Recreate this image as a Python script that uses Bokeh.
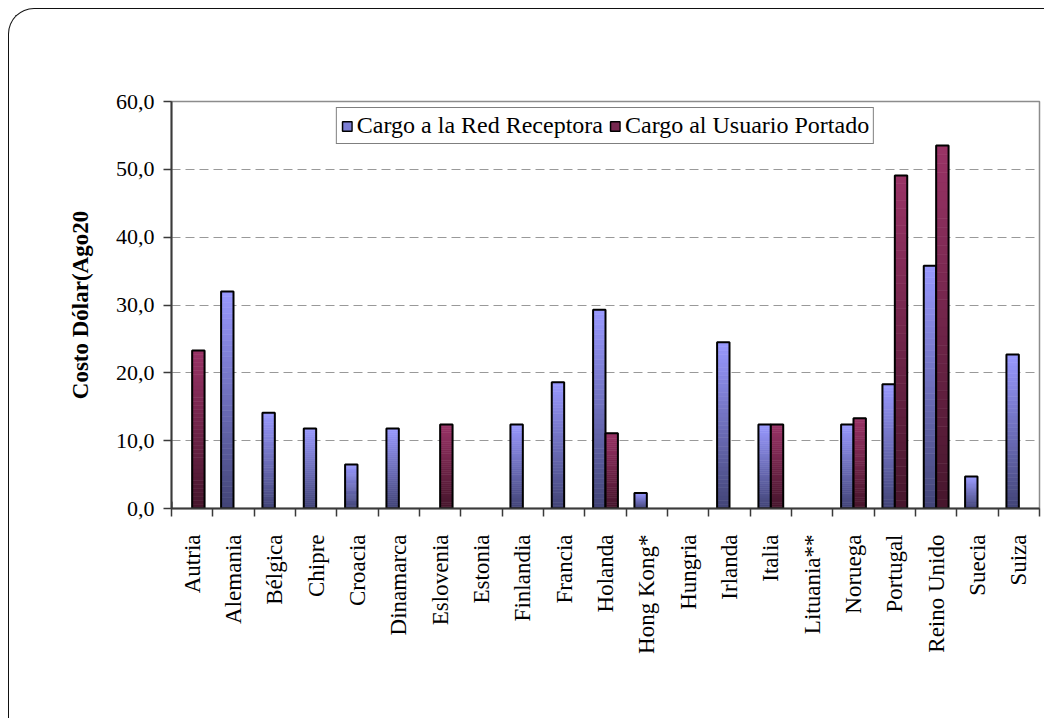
from math import pi

from bokeh.embed import file_html
from bokeh.resources import INLINE
from bokeh.plotting import figure
from bokeh.models import (Range1d, FixedTicker, LinearAxis, ColumnDataSource, Legend, LegendItem)

# ---------------- data ----------------
categories = ["Autria", "Alemania", "Bélgica", "Chipre", "Croacia", "Dinamarca", "Eslovenia",
              "Estonia", "Finlandia", "Francia", "Holanda", "Hong Kong*", "Hungria", "Irlanda",
              "Italia", "Lituania**", "Noruega", "Portugal", "Reino Unido", "Suecia", "Suiza"]
red_receptora = [0, 32.0, 14.1, 11.8, 6.5, 11.8, 0, 0, 12.4, 18.6, 29.3, 2.3, 0, 24.5,
                 12.4, 0, 12.4, 18.3, 35.8, 4.7, 22.7]
usuario_portado = [23.3, 0, 0, 0, 0, 0, 12.4, 0, 0, 0, 11.1, 0, 0, 0,
                   12.4, 0, 13.3, 49.1, 53.5, 0, 0]
series_names = ["Cargo a la Red Receptora", "Cargo al Usuario Portado"]
y_ticks = [0, 10, 20, 30, 40, 50, 60]
y_tick_labels = ["0,0", "10,0", "20,0", "30,0", "40,0", "50,0", "60,0"]
y_title = "Costo Dólar(Ago20"

SERIF = "Liberation Serif"
BLUE_LIGHT, BLUE_DARK = (153, 153, 255), (66, 68, 118)
RED_LIGHT, RED_DARK = (153, 51, 102), (70, 22, 44)

ncat = len(categories)
centers = [i + 0.5 for i in range(ncat)]
edges = list(range(ncat + 1))

p = figure(width=1036, height=710, x_range=Range1d(0, ncat), y_range=Range1d(0, 60),
           output_backend="svg", toolbar_location=None, x_axis_location=None,
           min_border_left=162, min_border_right=6, min_border_top=92, min_border_bottom=211)
p.margin = (8, 0, 0, 8)
p.styles = {"border-left": "1.5px solid #111", "border-top": "1.5px solid #111",
            "border-top-left-radius": "26px"}
p.background_fill_color = "white"
p.border_fill_color = None
p.outline_line_color = "#8c8c8c"
p.outline_line_width = 1.5

p.xgrid.grid_line_color = None
p.ygrid.ticker = FixedTicker(ticks=y_ticks[1:-1])
p.ygrid.grid_line_color = "#999999"
p.ygrid.grid_line_dash = "9 5"
p.ygrid.grid_line_width = 1

yax = p.yaxis[0]
yax.ticker = FixedTicker(ticks=y_ticks)
yax.major_label_overrides = dict(zip(y_ticks, y_tick_labels))
yax.major_label_text_font = SERIF
yax.major_label_text_font_size = "22px"
yax.major_label_text_color = "black"
yax.major_tick_out = 8
yax.major_tick_in = 0
yax.minor_tick_out = 0
yax.minor_tick_in = 0
yax.major_label_standoff = 9
yax.axis_line_color = "#3a3a3a"
yax.axis_line_width = 2
yax.major_tick_line_color = "#3a3a3a"
yax.major_tick_line_width = 1.5
yax.axis_label = y_title
yax.axis_label_text_font = SERIF
yax.axis_label_text_font_style = "bold"
yax.axis_label_text_font_size = "23px"
yax.axis_label_text_color = "black"
yax.axis_label_standoff = 20

# category axis: labels at centres, tick marks (minor ticks) at category boundaries
cat_axis = LinearAxis(ticker=FixedTicker(ticks=centers, minor_ticks=edges),
                      major_label_overrides=dict(zip(centers, categories)),
                      major_tick_out=0, major_tick_in=0, minor_tick_out=8, minor_tick_in=0,
                      minor_tick_line_color="#3a3a3a", minor_tick_line_width=1.5,
                      axis_line_color="#3a3a3a", axis_line_width=2,
                      major_label_orientation=pi / 2, major_label_standoff=18,
                      major_label_text_font=SERIF, major_label_text_font_size="23px",
                      major_label_text_color="black")
p.add_layout(cat_axis, "below")


def hexcol(c):
    return "#%02x%02x%02x" % c


def gradient_source(values, off, light, dark, n=40):
    xs, bot, top, col = [], [], [], []
    for x, v in zip(centers, values):
        if v <= 0:
            continue
        for k in range(n):
            t = (k + 0.5) / n
            xs.append(x + off)
            bot.append(v * k / n)
            top.append(v * (k + 1) / n)
            col.append(hexcol(tuple(round(d + (l - d) * t) for l, d in zip(light, dark))))
    return ColumnDataSource(dict(x=xs, bottom=bot, top=top, color=col))


def outline_source(values, off):
    xs = [x + off for x, v in zip(centers, values) if v > 0]
    val = [v for v in values if v > 0]
    return ColumnDataSource(dict(x=xs, val=val))


for values, off, light, dark in [(red_receptora, -0.15, BLUE_LIGHT, BLUE_DARK),
                                 (usuario_portado, 0.15, RED_LIGHT, RED_DARK)]:
    p.vbar(x="x", bottom="bottom", top="top", width=0.3, fill_color="color",
           line_color="color", line_width=0.6, source=gradient_source(values, off, light, dark))
    p.vbar(x="x", top="val", width=0.3, fill_alpha=0, line_color="black", line_width=2,
           source=outline_source(values, off))

# legend proxies (outside the visible x range, used only for the legend swatches)
r1 = p.vbar(x=[-5], top=[1], width=0.3, fill_color="#7c7ed4", line_color="black", line_width=1.5)
r2 = p.vbar(x=[-5], top=[1], width=0.3, fill_color="#772850", line_color="black", line_width=1.5)
legend = Legend(items=[LegendItem(label=series_names[0], renderers=[r1]),
                       LegendItem(label=series_names[1], renderers=[r2])],
                orientation="horizontal", location="top_center",
                label_text_font=SERIF, label_text_font_size="24px", label_text_color="black",
                glyph_width=12, glyph_height=12, label_standoff=4, spacing=6,
                padding=4, margin=6, border_line_color="black", border_line_width=1,
                background_fill_color="white", background_fill_alpha=1)
p.add_layout(legend)

open("out.html", "w").write(file_html(p, INLINE))
